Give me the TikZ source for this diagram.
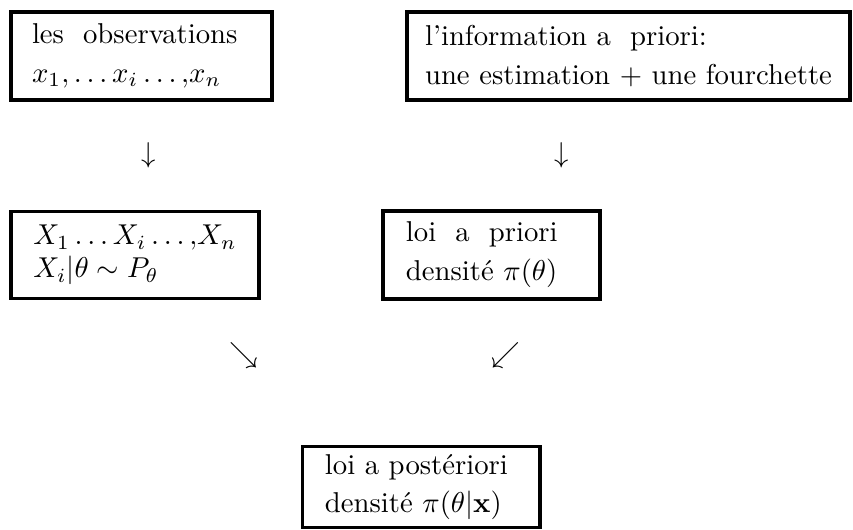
\documentclass[tikz,border=0pt]{standalone}
\begin{document}
\begin{tikzpicture}[x=0.3484pt,y=-0.3484pt,
  box/.style={draw,line width=1.1pt,align=left,inner sep=0pt,
    font=\fontsize{10}{13.5}\selectfont},
  arr/.style={inner sep=0pt,font=\fontsize{10}{12}\selectfont}]
\useasboundingbox (0,0) rectangle (853,530);
\node[box,minimum width=90.9pt,minimum height=30.66pt,text width=76.3pt,inner xsep=7.3pt] (obs) at (141.5,56)
  {les\ \ observations\\ $x_1,\ldots x_i\ldots{,}x_n$};
\node[box,minimum width=154.3pt,minimum height=30.66pt] (info) at (628.5,56)
  {l'information a\ \ priori:\\ une estimation $+$ une fourchette};
\node[box,minimum width=86.4pt,minimum height=30.5pt] (var) at (135,255)
  {$X_1\ldots X_i\ldots{,}X_n$\\[-2pt] $X_i|\theta\sim P_\theta$};
\node[box,minimum width=75.6pt,minimum height=30.66pt,text width=59.6pt,inner xsep=8pt] (prior) at (491.5,255)
  {loi\ \ a\ \ priori\\ densité $\pi(\theta)$};
\node[box,minimum width=82.6pt,minimum height=28.5pt,text width=67.2pt,inner xsep=7.7pt] (post) at (421.4,487)
  {loi a postériori\\ densité $\pi(\theta|\mathbf{x})$};
\node[arr] (a1) at (149,155) {$\downarrow$};
\node[arr] (a2) at (561.5,155) {$\downarrow$};
\node[arr] (a3) at (244,355) {$\searrow$};
\node[arr] (a4) at (506,355) {$\swarrow$};
\end{tikzpicture}
\end{document}
